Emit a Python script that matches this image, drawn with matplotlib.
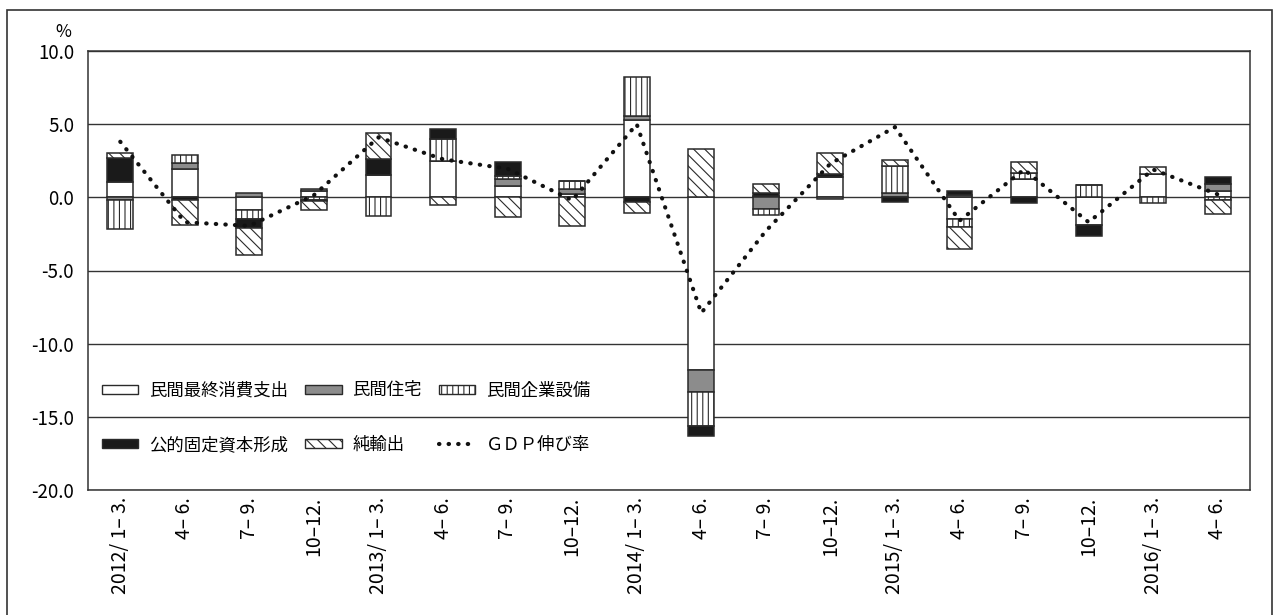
import numpy as np
import matplotlib
matplotlib.use('Agg')
import matplotlib.pyplot as plt
from matplotlib.patches import Patch, Rectangle
from matplotlib.lines import Line2D

plt.rcParams['font.family'] = ['Noto Sans CJK JP', 'DejaVu Sans']
plt.rcParams['hatch.linewidth'] = 0.8

quarters = ["2012/ 1– 3.", "4– 6.", "7– 9.", "10–12.",
            "2013/ 1– 3.", "4– 6.", "7– 9.", "10–12.",
            "2014/ 1– 3.", "4– 6.", "7– 9.", "10–12.",
            "2015/ 1– 3.", "4– 6.", "7– 9.", "10–12.",
            "2016/ 1– 3.", "4– 6."]

# contributions (%)
consumption = [1.05, 1.91, -0.89, 0.45, 1.55, 2.46, 0.8, 0.2, 5.3, -11.8,
               0.1, 1.39, 0.0, -1.5, 1.23, -1.91, 1.62, 0.43]
housing = [-0.18, 0.46, 0.3, 0.15, 0.0, 0.0, 0.48, 0.35, 0.25, -1.47,
           -0.8, -0.1, 0.32, 0.13, 0.0, 0.0, 0.0, 0.5]
equipment = [-1.96, 0.55, -0.61, -0.2, -1.25, 1.55, 0.2, 0.55, 2.67, -2.33,
             -0.4, 0.0, 1.82, -0.5, 0.46, 0.85, -0.41, -0.2]
public = [1.67, -0.18, -0.57, -0.05, 1.07, 0.68, 0.94, 0.0, -0.32, -0.7,
          0.2, 0.23, -0.32, 0.3, -0.41, -0.73, 0.0, 0.48]
net_exports = [0.3, -1.73, -1.89, -0.6, 1.78, -0.55, -1.34, -1.95, -0.77, 3.3,
               0.6, 1.39, 0.39, -1.55, 0.72, 0.0, 0.48, -0.95]
gdp = [3.8, -1.7, -1.95, 0.15, 4.1, 2.6, 1.95, -0.2, 5.0, -7.9,
       -2.3, 2.3, 4.8, -1.6, 1.9, -1.7, 1.9, 0.2]

yticks = [10, 5, 0, -5, -10, -15, -20]
ytick_labels = ["10.0", "5.0", "0.0", "-5.0", "-10.0", "-15.0", "-20.0"]

names = ["民間最終消費支出", "民間住宅", "民間企業設備", "公的固定資本形成", "純輸出"]
series = [consumption, housing, equipment, public, net_exports]
styles = [dict(facecolor='white', hatch=None),
          dict(facecolor='#8c8c8c', hatch=None),
          dict(facecolor='white', hatch='|||'),
          dict(facecolor='#1a1a1a', hatch=None),
          dict(facecolor='white', hatch='\\\\\\')]
edge = '#2a2a2a'
dots = (0, (0.1, 2.2))

fig = plt.figure(figsize=(12.74, 6.15), dpi=100)
ax = fig.add_axes([88 / 1274, 1 - 490 / 615, (1250 - 88) / 1274, (490 - 51) / 615])

x = np.arange(len(quarters))
pos_bottom = np.zeros(len(x))
neg_bottom = np.zeros(len(x))
for vals, st in zip(series, styles):
    v = np.array(vals)
    bottom = np.where(v >= 0, pos_bottom, neg_bottom)
    ax.bar(x, v, width=0.4, bottom=bottom, edgecolor=edge, linewidth=1.1,
           zorder=2, **st)
    pos_bottom += np.where(v >= 0, v, 0)
    neg_bottom += np.where(v < 0, v, 0)

ax.plot(x, gdp, color='#111111', linewidth=3.0, linestyle=dots,
        dash_capstyle='round', zorder=3)

ax.set_xlim(-0.5, len(x) - 0.5)
ax.set_ylim(-20, 10)
ax.set_yticks(yticks)
ax.set_yticklabels(ytick_labels, fontsize=13.5)
ax.set_xticks(x)
ax.set_xticklabels(quarters, rotation=90, fontsize=14, va='top', ha='center')
ax.tick_params(axis='both', length=0)
ax.tick_params(axis='y', pad=10)
ax.tick_params(axis='x', pad=5)
ax.grid(axis='y', color='#333333', linewidth=1.0)
ax.set_axisbelow(True)
for s in ax.spines.values():
    s.set_color('#333333')
    s.set_linewidth(1.1)

handles = [Patch(facecolor=st['facecolor'], hatch=st['hatch'], edgecolor=edge, linewidth=1.0)
           for st in styles]
handles.append(Line2D([], [], color='#111111', linewidth=3.0, linestyle=dots,
                      dash_capstyle='round'))
labels = names + ["ＧＤＰ伸び率"]
order = [0, 3, 1, 4, 2, 5]
ax.legend([handles[i] for i in order], [labels[i] for i in order], ncol=3,
          loc='center left', bbox_to_anchor=(0.012, 0.165), frameon=False,
          fontsize=12.5, handlelength=2.1, handleheight=0.4, handletextpad=0.6,
          columnspacing=1.0, labelspacing=2.1, borderpad=0, borderaxespad=0)

fig.text(63 / 1274, 1 - 32 / 615, "%", fontsize=12.5, ha='center', va='center')
fig.patches.append(Rectangle((7 / 1274, -0.01), (1272 - 7) / 1274, 1 - 10 / 615 + 0.01,
                             transform=fig.transFigure, fill=False,
                             edgecolor='#333333', linewidth=1.2))

fig.savefig('out.png', dpi=100)
